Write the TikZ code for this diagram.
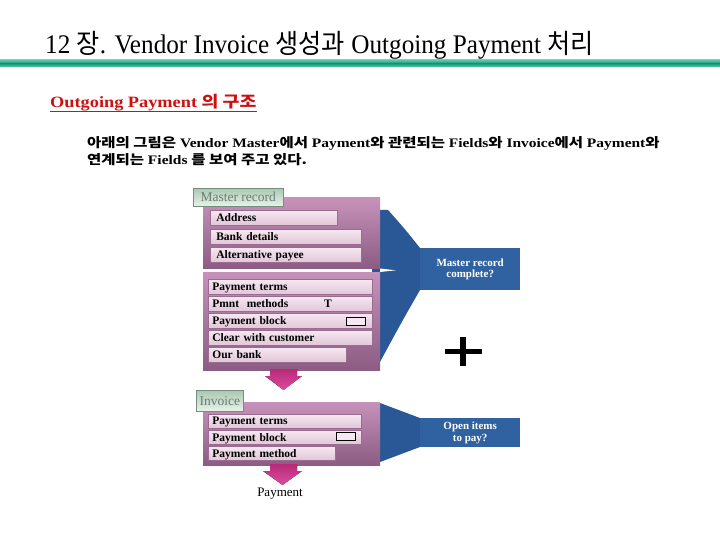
\documentclass[tikz,border=0pt]{standalone}
\usepackage{fontspec}
\setmainfont{Liberation Serif}
\newfontfamily\kr{Noto Sans CJK KR}
\definecolor{teal1}{HTML}{139A78}
\definecolor{teal2}{HTML}{5CC7A5}
\definecolor{redt}{HTML}{CC1111}
\definecolor{ptop}{HTML}{C692BA}
\definecolor{pbot}{HTML}{8C5C82}
\definecolor{ftop}{HTML}{F5E8F1}
\definecolor{fbot}{HTML}{E2C6D8}
\definecolor{fedge}{HTML}{9A6C90}
\definecolor{blu}{HTML}{2A5795}
\definecolor{blu2}{HTML}{3062A2}
\definecolor{mag1}{HTML}{B82A78}
\definecolor{mag2}{HTML}{DC4CA0}
\definecolor{tabtop}{HTML}{A9C9B3}
\definecolor{tabbot}{HTML}{E9F2EA}
\definecolor{tabtxt}{HTML}{6A7E72}
\begin{document}
\begin{tikzpicture}[x=1pt,y=-1pt,
  field/.style={draw=fedge,line width=0.6pt,top color=ftop,bottom color=fbot,
    anchor=north west,inner xsep=4pt,inner ysep=0pt,text depth=0pt,
    minimum width=#1pt,text width=#1pt-8pt,
    font=\fontsize{11.5}{12}\selectfont\bfseries,align=left},
  tab/.style={draw=tabtop!70!black,line width=0.5pt,top color=tabtop,bottom color=tabbot,anchor=north west,
    inner sep=0pt,font=\fontsize{13.5}{14}\selectfont,text=tabtxt},
  panel/.style={top color=ptop,bottom color=pbot,draw=none},
  funnel/.style={fill=blu,draw=none},
  qbox/.style={fill=blu2,draw=none,text=white,align=center,
    font=\fontsize{11}{11.5}\selectfont\bfseries},
  pinkarrow/.style={top color=mag1,bottom color=mag2,draw=none},
  chk/.style={draw=black,line width=1.6pt,fill=ftop,minimum width=19pt,minimum height=8pt,inner sep=0pt}
]
\useasboundingbox (0,0) rectangle (720,540);
\fill[white] (0,0) rectangle (720,540);
% title
\node[anchor=base west,inner sep=0pt,font=\fontsize{24}{26}\selectfont] (title) at (45,54)
 {\scalebox{1.05}[1.12]{12 {\kr 장}. Vendor Invoice {\kr 생성과} Outgoing Payment {\kr 처리}}};
\shade[top color=teal2,bottom color=teal1] (0,60) rectangle (720,63.5);
\shade[top color=teal1,bottom color=teal2] (0,63.5) rectangle (720,67);
% subtitle
\node[anchor=base west,inner sep=0pt,text=redt,font=\fontsize{15}{17}\selectfont\bfseries] (sub) at (50,108)
 {\scalebox{1.22}[1.05]{Outgoing Payment {\kr 의 구조}}};
\draw[redt,line width=1.2pt] (50,111.5) -- (257,111.5);
% paragraph
\node[anchor=base west,inner sep=0pt,font=\fontsize{13}{14}\selectfont\bfseries] (para1) at (87,148)
 {\scalebox{1.19}[1]{{\kr 아래의 그림은} Vendor Master{\kr 에서} Payment{\kr 와 관련되는} Fields{\kr 와} Invoice{\kr 에서} Payment{\kr 와}}};
\node[anchor=base west,inner sep=0pt,font=\fontsize{13}{14}\selectfont\bfseries] (para2) at (87,165)
 {\scalebox{1.19}[1]{{\kr 연계되는} Fields {\kr 를 보여 주고 있다.}}};
% ---------- master record ----------
\fill[funnel] (372,210) -- (388,210) .. controls (404,228) .. (420,248) -- (420,290) .. controls (400,325) .. (380,362) -- (372,362) -- cycle;
\node[qbox,minimum width=100pt,minimum height=42pt,anchor=north west] (mrc) at (420,248) {Master record\\complete?};
\shade[panel] (203,198) rectangle (380,268);
\shade[panel] (203,272) rectangle (380,370);
\fill[white] (380,268.5) -- (396,270.3) -- (380,272) -- cycle;
\node[tab,minimum width=90pt,minimum height=18pt] (mtab) at (193,188) {Master record};
\node[field=127,minimum height=15pt] (addr) at (210,210) {\hspace{2pt}Address};
\node[field=151,minimum height=15pt] (bank) at (210,229) {\hspace{2pt}Bank details};
\node[field=151,minimum height=15pt] (alt) at (210,247) {\hspace{2pt}Alternative payee};
\node[field=164,minimum height=15pt] (pt1) at (208,279) {Payment terms};
\node[field=164,minimum height=15pt] (pm1) at (208,296) {Pmnt\ \ methods};
\node[font=\fontsize{11.5}{12}\selectfont\bfseries,inner sep=0pt] (tval) at (328,304) {T};
\node[field=164,minimum height=15pt] (pb1) at (208,313) {Payment block};
\node[chk,anchor=center] (pbbox1) at (356,321.5) {};
\node[field=164,minimum height=15pt] (cwc) at (208,330) {Clear with customer};
\node[field=138,minimum height=15pt] (ob) at (208,347) {Our bank};
\fill[pinkarrow] (270,369) -- (297,369) -- (297,376) -- (302,376) -- (283.5,390) -- (265,376) -- (270,376) -- cycle;
% plus
\node[inner sep=0pt] (plus) at (463,351.5) {};
\fill[black] (445,349) rectangle (482,354);
\fill[black] (459.5,337) rectangle (466,366);
% ---------- invoice ----------
\fill[funnel] (372,403) -- (380,403) .. controls (400,410) .. (420,418) -- (420,447) .. controls (400,455) .. (380,462) -- (372,462) -- cycle;
\node[qbox,minimum width=100pt,minimum height=29pt,anchor=north west] (oit) at (420,418) {Open items\\to pay?};
\shade[panel] (203,402) rectangle (380,465);
\node[tab,minimum width=47pt,minimum height=21pt] (itab) at (196,390) {Invoice};
\node[field=153,minimum height=13.5pt] (pt2) at (208,414) {Payment terms};
\node[field=153,minimum height=13.5pt] (pb2) at (208,430) {Payment block};
\node[chk,anchor=center] (pbbox2) at (346,436.5) {};
\node[field=127,minimum height=13.5pt] (pm2) at (208,446) {Payment method};
\fill[pinkarrow] (270,464) -- (297,464) -- (297,471) -- (302,471) -- (282.5,485) -- (263,471) -- (270,471) -- cycle;
\node[anchor=base,inner sep=0pt,font=\fontsize{13}{14}\selectfont] (pay) at (280,496) {Payment};
\end{tikzpicture}
\end{document}
